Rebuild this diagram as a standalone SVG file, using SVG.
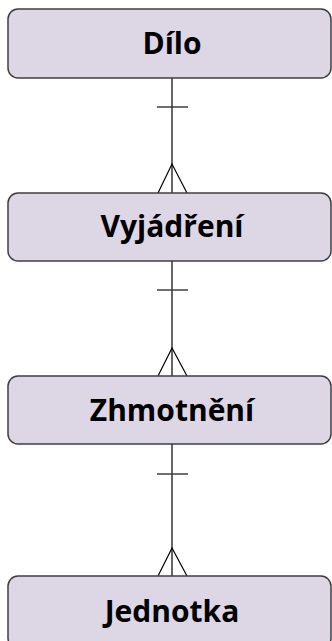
<svg xmlns="http://www.w3.org/2000/svg" width="332" height="641" viewBox="0 0 332 641">
<style>
.box{fill:#DDD6E5;stroke:#3F3F3F;stroke-width:1.5}
.lbl{font-family:"Open Sans","Noto Sans",sans-serif;font-weight:bold;font-size:30px;fill:#000;text-anchor:middle}
.ln{stroke:#000;stroke-width:1.2;fill:none}
.tk{stroke:#3F3F3F;stroke-width:1.5;fill:none}
</style>
<rect width="332" height="641" fill="#fff"/>
<g id="connectors">
<line class="ln" x1="172" y1="78" x2="172" y2="193"/>
<line class="tk" x1="157" y1="107" x2="188" y2="107"/>
<polyline class="ln" points="158,193 172,164 187,193"/>
<line class="ln" x1="172" y1="261" x2="172" y2="376"/>
<line class="tk" x1="157" y1="290" x2="188" y2="290"/>
<polyline class="ln" points="158,376 172,348 187,376"/>
<line class="ln" x1="172" y1="444" x2="172" y2="576"/>
<line class="tk" x1="157" y1="474" x2="188" y2="474"/>
<polyline class="ln" points="158,576 172,548 187,576"/>
</g>
<g id="dilo"><rect class="box" x="8" y="9" width="323" height="69" rx="10"/><text class="lbl" x="172" y="54">Dílo</text></g>
<g id="vyjadreni"><rect class="box" x="8" y="193" width="323" height="68" rx="10"/><text class="lbl" x="172" y="237">Vyjádření</text></g>
<g id="zhmotneni"><rect class="box" x="8" y="376" width="323" height="68" rx="10"/><text class="lbl" x="172" y="421">Zhmotnění</text></g>
<g id="jednotka"><rect class="box" x="8" y="576" width="323" height="72" rx="10"/><text class="lbl" x="172" y="622">Jednotka</text></g>
</svg>
